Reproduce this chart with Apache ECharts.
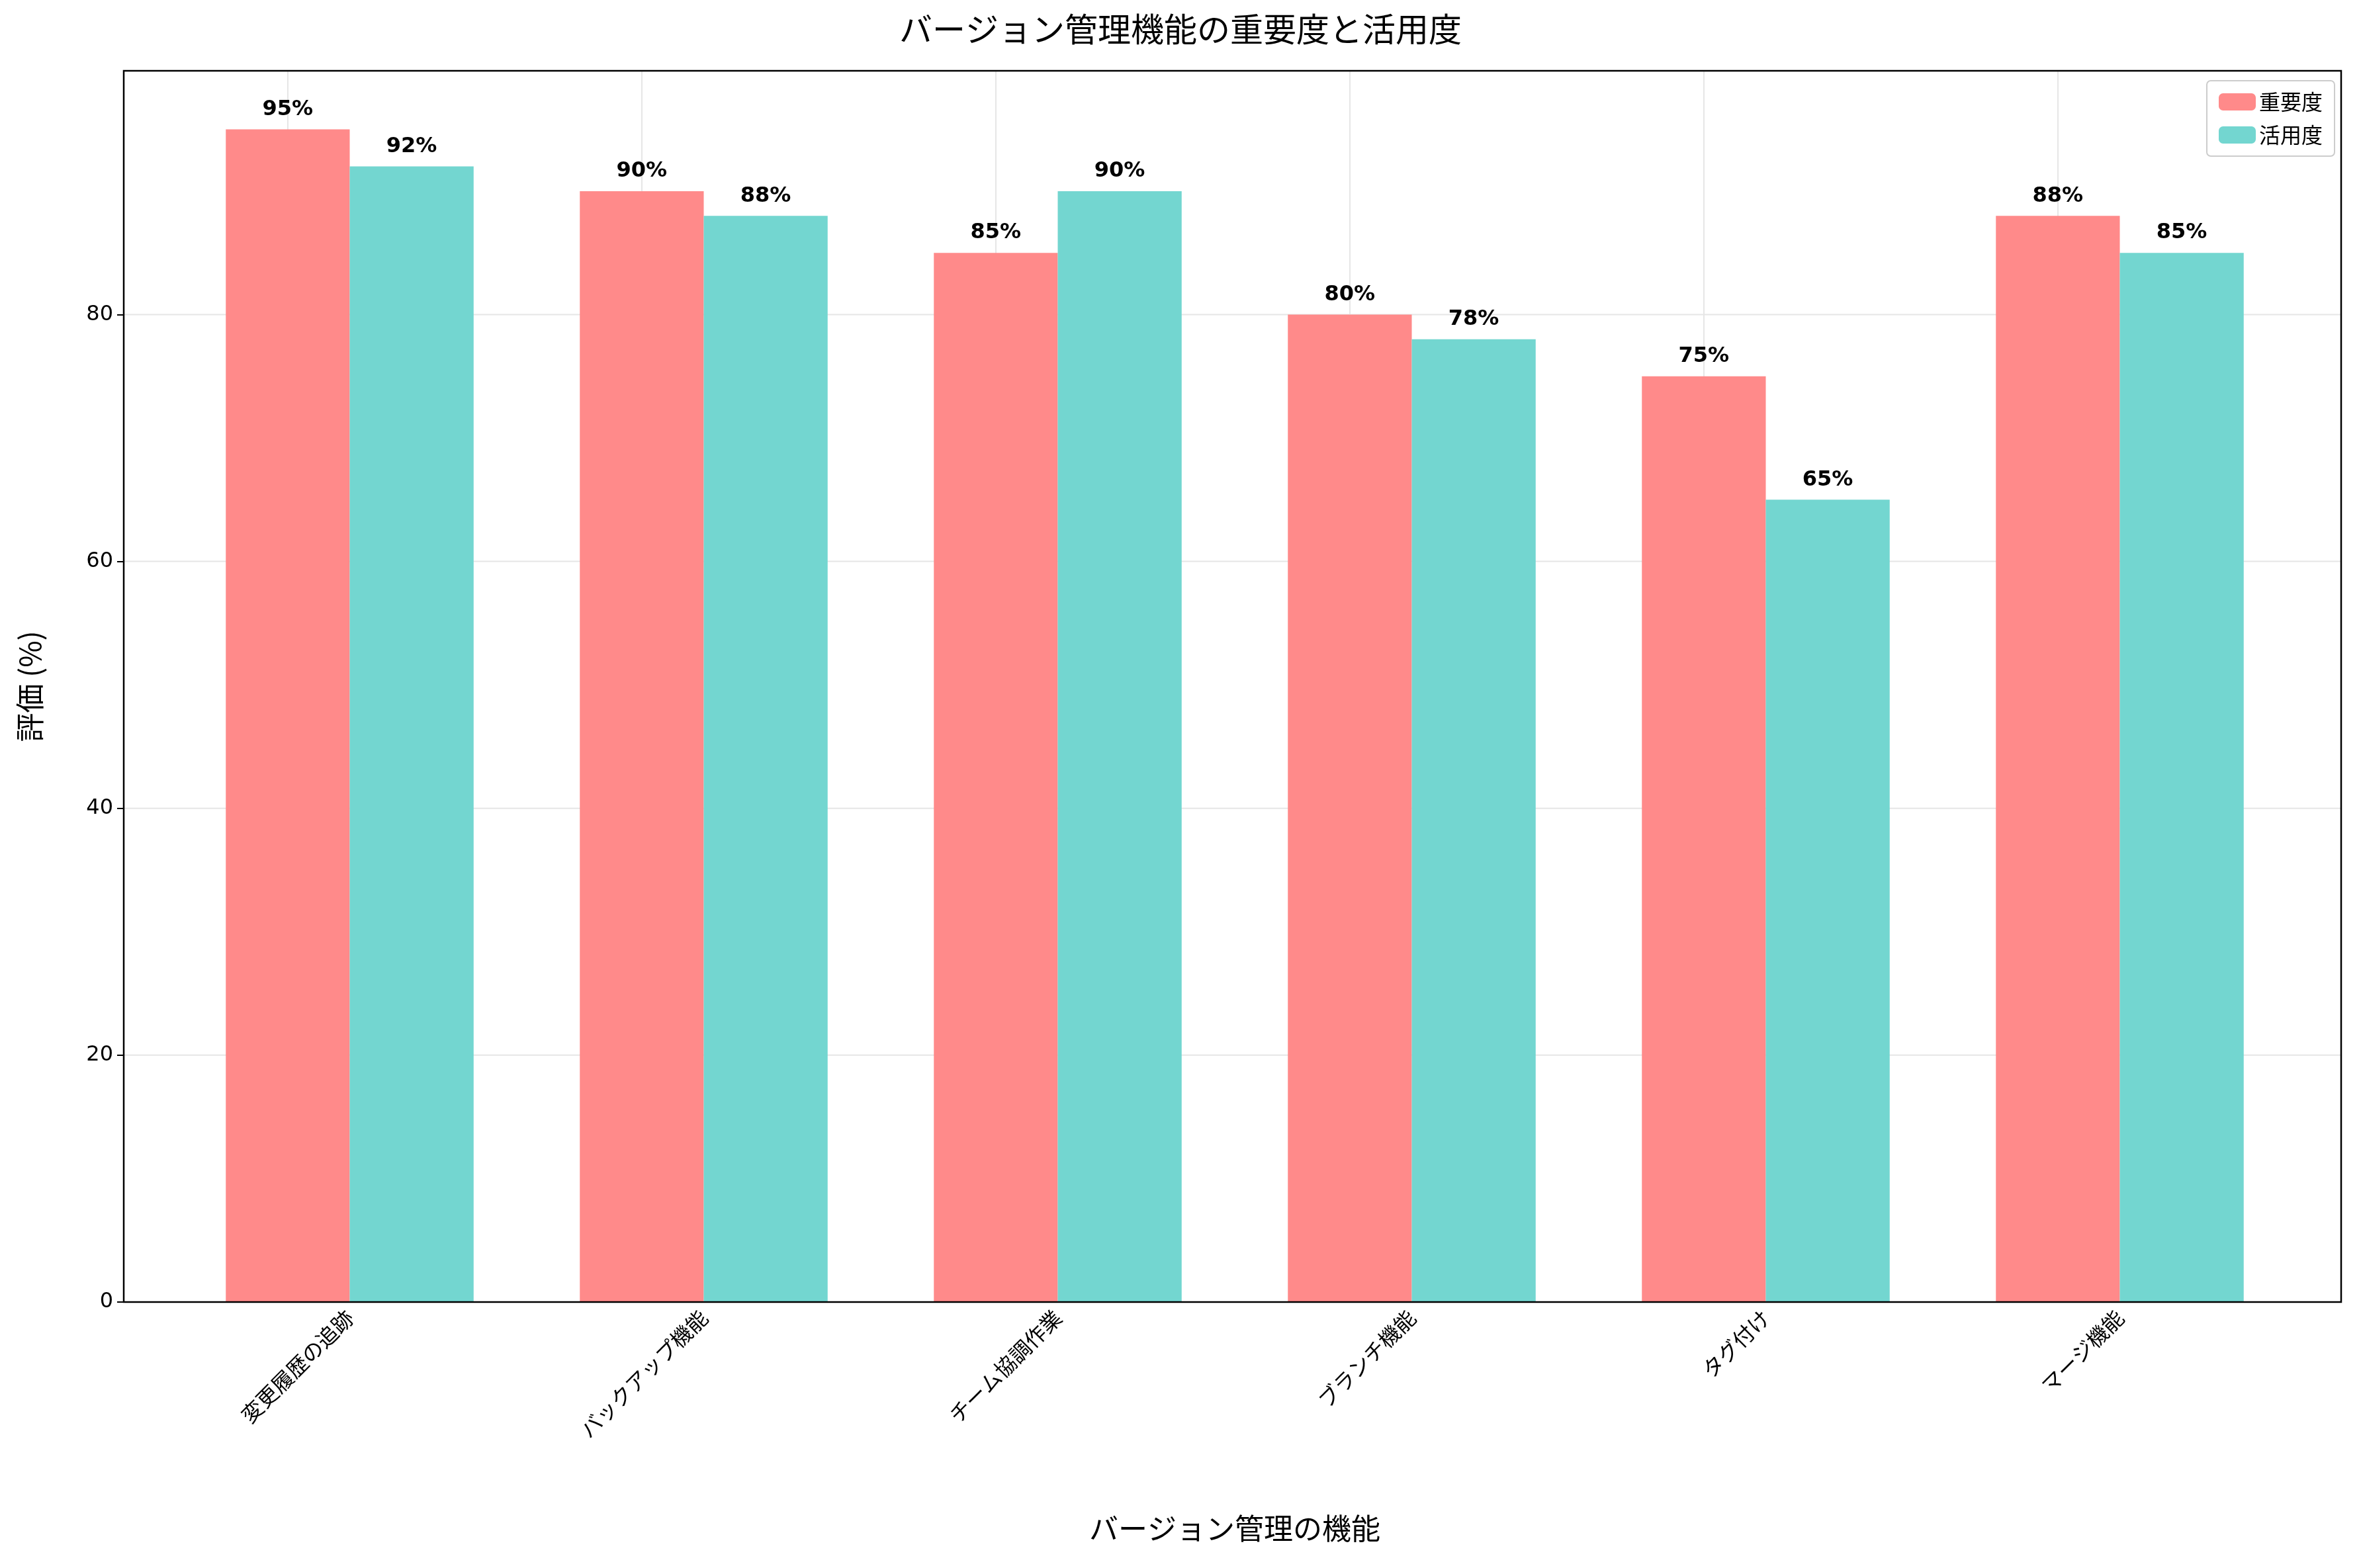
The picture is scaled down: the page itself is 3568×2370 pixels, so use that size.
<!DOCTYPE html>
<html><head><meta charset="utf-8">
<script src="https://cdn.jsdelivr.net/npm/echarts@6/dist/echarts.min.js"></script>
<style>html,body{margin:0;padding:0;background:#fff}#c{width:3568px;height:2370px}</style>
</head><body><div id="c"></div>
<script>
const categories = ['変更履歴の追跡','バックアップ機能','チーム協調作業','ブランチ機能','タグ付け','マージ機能'];
const importance = [95,90,85,80,75,88];
const usage = [92,88,90,78,65,85];
const yTicks = [20,40,60,80];
const F = 'Noto Sans CJK JP';
const chart = echarts.init(document.getElementById('c'));
const lbl = {show:true,position:'top',distance:14,formatter:'{c}%',fontFamily:'DejaVu Sans',fontWeight:'bold',fontSize:32,color:'#000'};
chart.setOption({
  animation:false,
  title:{text:'バージョン管理機能の重要度と活用度',left:'center',top:14,textStyle:{fontFamily:F,fontSize:50,fontWeight:'normal',color:'#000'}},
  legend:{right:40,top:122,orient:'vertical',itemWidth:56,itemHeight:26,itemGap:18,padding:[16,18],borderColor:'#ccc',borderWidth:2,borderRadius:6,textStyle:{fontFamily:F,fontSize:32,color:'#000'},data:['重要度','活用度']},
  grid:{left:261,right:97,top:107,bottom:402,containLabel:false},
  xAxis:{type:'category',data:categories,
    name:'バージョン管理の機能',nameLocation:'middle',nameGap:320,nameTextStyle:{fontFamily:F,fontSize:44,color:'#000'},
    axisLine:{show:false},axisTick:{alignWithLabel:true,length:10,lineStyle:{color:'#000',width:2}},
    axisLabel:{rotate:45,fontFamily:F,fontSize:32,color:'#000',margin:18}},
  yAxis:{type:'value',min:0,max:99.75,interval:20,offset:74,
    name:'評価 (%)',nameLocation:'middle',nameGap:120,nameTextStyle:{fontFamily:F,fontSize:44,color:'#000'},
    axisLine:{show:false},axisTick:{show:true,length:10,lineStyle:{color:'#000',width:2}},
    axisLabel:{fontFamily:'DejaVu Sans',fontSize:32,color:'#000',margin:16,showMaxLabel:false},
    splitLine:{show:false}},
  series:[
    {name:'重要度',type:'bar',data:importance,barWidth:'35%',barGap:'0%',itemStyle:{color:'#FF8A8A'},label:lbl,
     markLine:{silent:true,symbol:'none',label:{show:false},lineStyle:{color:'#e6e6e6',width:2,type:'solid'},data:categories.map(c=>({xAxis:c})),z:0}},
    {name:'活用度',type:'bar',data:usage,barWidth:'35%',barGap:'0%',itemStyle:{color:'#73D6D0'},label:lbl}
  ]
});
const g = yTicks.map(v=>{const y=chart.convertToPixel({yAxisIndex:0},v);return {type:'line',shape:{x1:187,y1:y,x2:3538,y2:y},style:{stroke:'#e6e6e6',lineWidth:2},z:-10,silent:true};});
g.push({type:'rect',shape:{x:187,y:107,width:3351,height:1861},style:{fill:'none',stroke:'#000',lineWidth:2.5},z:100,silent:true});
chart.setOption({graphic:g});
</script></body></html>
